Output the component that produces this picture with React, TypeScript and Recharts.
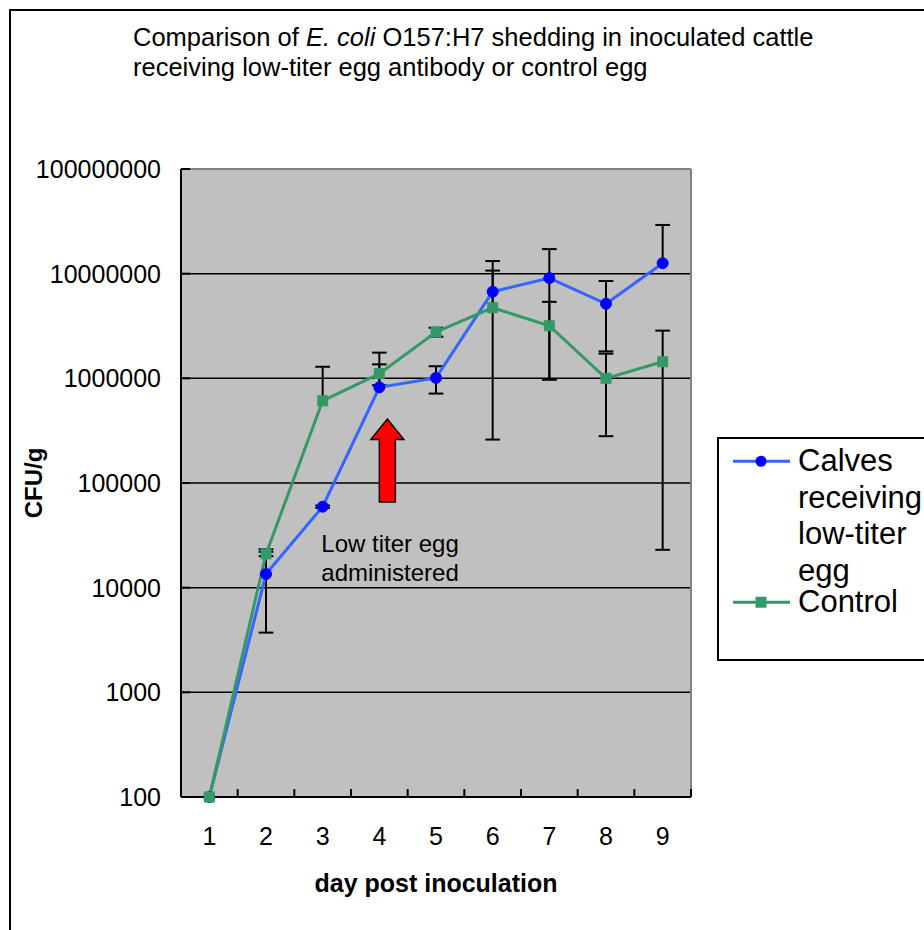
import React from "react";
import {
  LineChart,
  Line,
  XAxis,
  YAxis,
  CartesianGrid,
  ReferenceLine,
  ReferenceDot,
  Legend,
  Label,
} from "recharts";

const FONT = '"Liberation Sans", Arial, Helvetica, sans-serif';

// values (CFU/g), error = SD
const days = [1, 2, 3, 4, 5, 6, 7, 8, 9];
const calvesMean = [100, 13500, 59400, 820000, 1010000, 6730000, 9070000, 5160000, 12600000];
const calvesSd = [0, 9780, 1500, 940000, 295000, 6470000, 8100000, 3350000, 16600000];
const controlMean = [100, 21000, 610000, 1110000, 2770000, 4730000, 3180000, 1000000, 1440000];
const controlSd = [0, 1000, 680000, 250000, 270000, 5970000, 2200000, 720000, 1417000];

const yTicks = [100, 1000, 10000, 100000, 1000000, 10000000, 100000000];
const gridValues = [1000, 10000, 100000, 1000000, 10000000];
const dayBounds = [1.5, 2.5, 3.5, 4.5, 5.5, 6.5, 7.5, 8.5, 9.5];

const seriesNames = ["Calves receiving low-titer egg", "Control"];
const seriesColors = ["#3366FF", "#339966"];
const markerColors = ["#0000FF", "#339966"];

const data = days.map((d, i) => ({
  day: d,
  calves: calvesMean[i],
  control: controlMean[i],
}));

const CAP = 0.13;

// Excel style error bars: lower arm dropped when it would go below zero
function errorBars(means: number[], sds: number[], id: string) {
  const out: React.ReactNode[] = [];
  days.forEach((d, i) => {
    const sd = sds[i];
    if (!sd) return;
    const m = means[i];
    const hi = m + sd;
    const lo = m - sd;
    const bottom = lo > 0 ? lo : m;
    out.push(
      <ReferenceLine
        key={`${id}-v-${i}`}
        segment={[{ x: d, y: bottom }, { x: d, y: hi }]}
        stroke="#000"
        strokeWidth={2}
        ifOverflow="visible"
      />
    );
    out.push(
      <ReferenceLine
        key={`${id}-hi-${i}`}
        segment={[{ x: d - CAP, y: hi }, { x: d + CAP, y: hi }]}
        stroke="#000"
        strokeWidth={2}
        ifOverflow="visible"
      />
    );
    if (lo > 0) {
      out.push(
        <ReferenceLine
          key={`${id}-lo-${i}`}
          segment={[{ x: d - CAP, y: lo }, { x: d + CAP, y: lo }]}
          stroke="#000"
          strokeWidth={2}
          ifOverflow="visible"
        />
      );
    }
  });
  return out;
}

const SquareDot = (p: any) => {
  if (p.cx == null || p.cy == null) return <g key={`sq-${p.index}`} />;
  return (
    <rect
      key={`sq-${p.index}`}
      x={p.cx - 5.5}
      y={p.cy - 5.5}
      width={11}
      height={11}
      fill={markerColors[1]}
    />
  );
};

const ArrowNote = (p: any) => {
  const { cx, cy } = p;
  const x = cx + 8;
  const pts = [
    [x, cy],
    [x + 16.5, cy + 20.5],
    [x + 8, cy + 20.5],
    [x + 8, cy + 83],
    [x - 8, cy + 83],
    [x - 8, cy + 20.5],
    [x - 16.5, cy + 20.5],
  ]
    .map((q) => q.join(","))
    .join(" ");
  return (
    <g>
      <polygon points={pts} fill="#FF0000" stroke="#000" strokeWidth={1.5} />
      <text x={cx - 58} y={cy + 133} fontSize={24} fill="#000">
        Low titer egg
      </text>
      <text x={cx - 58} y={cy + 162} fontSize={24} fill="#000">
        administered
      </text>
    </g>
  );
};

const LegendBox = () => (
  <div
    style={{
      border: "2px solid #000",
      width: 240,
      height: 224,
      background: "#fff",
      paddingTop: 4,
      boxSizing: "border-box",
      fontFamily: FONT,
      fontSize: 31,
      lineHeight: "36.5px",
      color: "#000",
    }}
  >
    {seriesNames.map((name, i) => (
      <div
        key={name}
        style={{ display: "flex", alignItems: "flex-start", marginTop: i === 0 ? 0 : -5 }}
      >
        <svg width={79} height={36.5} style={{ flex: "none" }}>
          <line x1={14} y1={18.25} x2={71} y2={18.25} stroke={seriesColors[i]} strokeWidth={3} />
          {i === 0 ? (
            <circle cx={42} cy={18.25} r={5.5} fill={markerColors[0]} />
          ) : (
            <rect x={36.5} y={12.75} width={11} height={11} fill={markerColors[1]} />
          )}
        </svg>
        <span style={{ width: 135 }}>{name}</span>
      </div>
    ))}
  </div>
);

export default function App() {
  return (
    <div
      style={{
        position: "fixed",
        left: 0,
        top: 0,
        width: 924,
        height: 930,
        overflow: "hidden",
        background: "#fff",
        fontFamily: FONT,
      }}
    >
      <div
        style={{
          position: "absolute",
          left: 9,
          top: 9,
          width: 960,
          height: 960,
          border: "2px solid #000",
        }}
      />
      <div
        style={{
          position: "absolute",
          left: 133,
          top: 22,
          width: 700,
          fontSize: 25.5,
          lineHeight: "30px",
          color: "#000",
        }}
      >
        Comparison of <i>E. coli</i> O157:H7 shedding in inoculated cattle receiving
        low-titer egg antibody or control egg
      </div>
      <div style={{ position: "absolute", left: 0, top: 0 }}>
        <LineChart
          width={924}
          height={930}
          data={data}
          margin={{ top: 169, right: 233, bottom: 33, left: 11 }}
        >
          <CartesianGrid
            fill="#C0C0C0"
            vertical={false}
            horizontalValues={gridValues}
            stroke="#000"
            strokeWidth={1.5}
            strokeOpacity={1}
          />
          <ReferenceLine y={100000000} stroke="#808080" strokeWidth={2} ifOverflow="visible" />
          <ReferenceLine x={9.5} stroke="#808080" strokeWidth={2} ifOverflow="visible" />
          {yTicks.map((v) => (
            <ReferenceLine
              key={`yt-${v}`}
              segment={[{ x: 0.5, y: v }, { x: 0.66, y: v }]}
              stroke="#000"
              strokeWidth={2}
              ifOverflow="visible"
            />
          ))}
          {dayBounds.map((b) => (
            <ReferenceLine
              key={`xt-${b}`}
              segment={[{ x: b, y: 100 }, { x: b, y: 119 }]}
              stroke="#000"
              strokeWidth={2}
              ifOverflow="visible"
            />
          ))}
          {errorBars(calvesMean, calvesSd, "cal")}
          {errorBars(controlMean, controlSd, "ctl")}
          <ReferenceDot x={4} y={408000} r={0} shape={ArrowNote} ifOverflow="visible" />
          <XAxis
            dataKey="day"
            type="number"
            domain={[0.5, 9.5]}
            ticks={days}
            interval={0}
            tickLine={false}
            tickSize={0}
            tickMargin={30}
            height={100}
            axisLine={{ stroke: "#000", strokeWidth: 2 }}
            tick={{ fill: "#000", fontSize: 25 }}
          >
            <Label
              value="day post inoculation"
              position="insideBottom"
              offset={5}
              style={{ fontWeight: "bold", fontSize: 25, fill: "#000" }}
            />
          </XAxis>
          <YAxis
            type="number"
            scale="log"
            domain={[100, 100000000]}
            ticks={yTicks}
            interval={0}
            tickLine={false}
            tickSize={0}
            tickMargin={20}
            width={170}
            axisLine={{ stroke: "#000", strokeWidth: 2 }}
            tick={{ fill: "#000", fontSize: 25 }}
            tickFormatter={(v: number) => String(v)}
          >
            <Label
              value="CFU/g"
              angle={-90}
              position="insideLeft"
              offset={22}
              style={{ textAnchor: "middle", fontWeight: "bold", fontSize: 24, fill: "#000" }}
            />
          </YAxis>
          <Line
            type="linear"
            dataKey="calves"
            name={seriesNames[0]}
            stroke={seriesColors[0]}
            strokeWidth={3}
            dot={{ r: 5.5, fill: markerColors[0], stroke: markerColors[0], strokeWidth: 1 }}
            activeDot={false}
            isAnimationActive={false}
          />
          <Line
            type="linear"
            dataKey="control"
            name={seriesNames[1]}
            stroke={seriesColors[1]}
            strokeWidth={3}
            dot={SquareDot}
            activeDot={false}
            isAnimationActive={false}
          />
          <Legend
            layout="vertical"
            align="center"
            verticalAlign="middle"
            content={LegendBox}
            wrapperStyle={{ left: 717, top: 437, width: 240, height: 228 }}
          />
        </LineChart>
      </div>
    </div>
  );
}
